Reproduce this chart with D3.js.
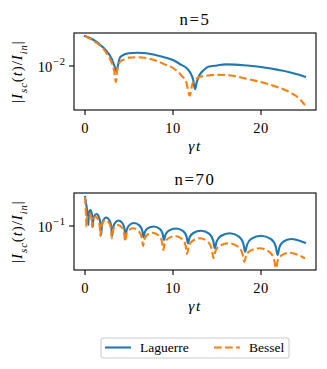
<!DOCTYPE html>
<html><head><meta charset="utf-8">
<script src="https://cdn.jsdelivr.net/npm/d3@7"></script>
<style>
body{margin:0;background:#fff}
svg{display:block}
</style>
</head><body>
<svg id="c" width="327" height="369" font-family="'Liberation Serif', 'Times New Roman', serif"></svg>
<script>
// ---------------- data ----------------
const panelTitles = ["n=5", "n=70"];
const seriesNames = ["Laguerre", "Bessel"];
const xTickValues = [0, 10, 20];
const yTickValues = [0.01, 0.1];
const yTickExponents = ["\u22122", "\u22121"];

// n = 5, Laguerre
const t5Laguerre = [0,1,2,2.5,3,3.3,3.45,3.6,3.75,4,4.5,5,6,7,8,9,10,11,11.5,12,12.3,12.5,12.7,13,13.5,14,15,16,17,18,19,20,21,22,23,24,25];
const v5Laguerre = [0.0293,0.0254,0.0198,0.0167,0.0132,0.0104,0.0093,0.00807,0.0104,0.0137,0.0152,0.0158,0.0161,0.0158,0.0148,0.0137,0.0124,0.0103,0.00941,0.0077,0.00606,0.00434,0.00564,0.0072,0.00866,0.0097,0.0102,0.0106,0.0105,0.0103,0.0100,0.00965,0.00921,0.00866,0.00815,0.00751,0.00681];
// n = 5, Bessel
const t5Bessel = [0,1,2,2.5,3,3.3,3.5,3.7,4,4.5,5,6,7,8,9,10,11,11.5,11.9,12.2,12.5,13,14,15,16,17,18,19,20,21,22,23,24,24.5,25];
const v5Bessel = [0.0293,0.0245,0.0191,0.0154,0.0115,0.00866,0.00564,0.00931,0.0117,0.0127,0.0135,0.0137,0.0133,0.0122,0.0107,0.00931,0.00699,0.00564,0.00347,0.00525,0.00606,0.00674,0.00711,0.00729,0.00724,0.00699,0.00651,0.00606,0.00564,0.00515,0.00463,0.00408,0.00341,0.00296,0.00247];

// n = 70, Laguerre
const t70Laguerre = [0,0.15,0.3,0.38,0.41,0.47,0.6,0.76,0.84,0.87,0.92,1.04,1.3,1.62,1.77,1.83,1.9,2.06,2.4,2.81,3.0,3.08,3.17,3.37,3.8,4.28,4.5,4.6,4.71,4.98,5.55,6.21,6.52,6.65,6.79,7.11,7.8,8.5,8.83,8.97,9.14,9.52,10.35,11.16,11.54,11.7,11.88,12.3,13.2,14.13,14.56,14.75,14.95,15.43,16.45,17.5,17.99,18.2,18.42,18.92,20.0,21.14,21.67,21.9,22.08,22.5,23.4,24.2,25];
const v70Laguerre = [0.2828,0.2123,0.1483,0.1037,0.1318,0.1611,0.1775,0.1588,0.1267,0.0965,0.1188,0.1416,0.1538,0.1342,0.1014,0.0724,0.0961,0.1209,0.1356,0.1205,0.0941,0.0699,0.0898,0.1102,0.1218,0.1094,0.0876,0.0667,0.0839,0.1014,0.1114,0.1014,0.0839,0.0667,0.0795,0.0918,0.0982,0.0901,0.0753,0.0606,0.0729,0.0848,0.0914,0.0830,0.0684,0.0538,0.0660,0.0778,0.0845,0.0753,0.0597,0.0450,0.0572,0.0699,0.0770,0.0684,0.0536,0.0398,0.0515,0.0637,0.0706,0.0623,0.0483,0.0354,0.0458,0.0566,0.0628,0.0599,0.0550];
// n = 70, Bessel
const t70Bessel = [0,0.07,0.12,0.17,0.2,0.28,0.45,0.66,0.76,0.8,0.85,0.96,1.2,1.53,1.68,1.75,1.82,1.99,2.35,2.76,2.96,3.04,3.13,3.32,3.75,4.24,4.46,4.56,4.67,4.92,5.45,6.14,6.46,6.6,6.73,7.04,7.7,8.42,8.76,8.9,9.06,9.44,10.25,11.06,11.44,11.6,11.77,12.18,13.05,13.98,14.41,14.6,14.8,15.28,16.3,17.38,17.88,18.1,18.31,18.8,19.85,20.96,21.48,21.7,21.88,22.3,23.2,24.1,25];
const v70Bessel = [0.2828,0.1976,0.1381,0.0975,0.1209,0.1447,0.1577,0.1447,0.1209,0.0975,0.1146,0.1309,0.1396,0.1231,0.0955,0.0699,0.0905,0.1118,0.1240,0.1102,0.0863,0.0643,0.0798,0.0951,0.1037,0.0931,0.0745,0.0570,0.0706,0.0845,0.0921,0.0821,0.0651,0.0488,0.0606,0.0722,0.0787,0.0704,0.0560,0.0423,0.0530,0.0639,0.0699,0.0623,0.0490,0.0367,0.0473,0.0582,0.0643,0.0566,0.0434,0.0314,0.0399,0.0488,0.0538,0.0478,0.0375,0.0278,0.0345,0.0413,0.0450,0.0395,0.0303,0.0220,0.0282,0.0347,0.0384,0.0360,0.0314];

// ---------------- drawing ----------------
const colors = ["#1f77b4", "#ff7f0e"];
const dashes = [null, "7.7,3.3"];
const svg = d3.select("#c");

const panels = [
  {title: panelTitles[0], top: 33, bottom: 110, yDomain: [0.002065, 0.03265], tick: yTickValues[0], exp: yTickExponents[0],
   series: [[t5Laguerre, v5Laguerre], [t5Bessel, v5Bessel]]},
  {title: panelTitles[1], top: 193, bottom: 270, yDomain: [0.02065, 0.3265], tick: yTickValues[1], exp: yTickExponents[1],
   series: [[t70Laguerre, v70Laguerre], [t70Bessel, v70Bessel]]}
];

const L = 74, R = 316;
const x = d3.scaleLinear().domain([-1.25, 26.25]).range([L, R]);

function mathText(sel, parts, size) {
  let sub = false;
  parts.forEach(p => {
    const ts = sel.append("tspan").text(p.t);
    if (p.i) ts.attr("font-style", "italic");
    if (p.sub && !sub) { ts.attr("dy", size * 0.3); sub = true; }
    else if (!p.sub && sub) { ts.attr("dy", -size * 0.3); sub = false; }
    ts.attr("font-size", p.sub ? size * 0.72 : size);
  });
}

panels.forEach((pn, k) => {
  const y = d3.scaleLog().domain(pn.yDomain).range([pn.bottom, pn.top]);
  const g = svg.append("g");
  const clipId = "clip" + k;
  svg.append("clipPath").attr("id", clipId).append("rect")
    .attr("x", L).attr("y", pn.top).attr("width", R - L).attr("height", pn.bottom - pn.top);

  pn.series.forEach((s, i) => {
    const pts = s[0].map((t, j) => [t, s[1][j]]);
    const line = d3.line().x(d => x(d[0])).y(d => y(d[1])).curve(d3.curveMonotoneX);
    g.append("path").attr("d", line(pts))
      .attr("clip-path", `url(#${clipId})`)
      .attr("fill", "none").attr("stroke", colors[i]).attr("stroke-width", 2.1)
      .attr("stroke-linejoin", "round")
      .attr("stroke-linecap", dashes[i] ? "butt" : "square")
      .attr("stroke-dasharray", dashes[i]);
  });

  // frame
  g.append("rect").attr("x", L).attr("y", pn.top).attr("width", R - L).attr("height", pn.bottom - pn.top)
    .attr("fill", "none").attr("stroke", "#000").attr("stroke-width", 1.1);

  // x ticks
  const xt = g.selectAll(".xt").data(xTickValues).enter().append("g");
  xt.append("line").attr("x1", d => x(d)).attr("x2", d => x(d))
    .attr("y1", pn.bottom).attr("y2", pn.bottom + 4.9).attr("stroke", "#000").attr("stroke-width", 1.1);
  xt.append("text").attr("x", d => x(d)).attr("y", pn.bottom + 23)
    .attr("text-anchor", "middle").attr("font-size", 14.5).attr("letter-spacing", 0.4).text(d => d);

  // y tick
  const yy = y(pn.tick);
  g.append("line").attr("x1", L - 4.9).attr("x2", L).attr("y1", yy).attr("y2", yy)
    .attr("stroke", "#000").attr("stroke-width", 1.1);
  const yl = g.append("text").attr("x", 65.5).attr("y", yy + 5.5).attr("text-anchor", "end").attr("font-size", 14.5);
  yl.append("tspan").text("10");
  yl.append("tspan").attr("dx", 1).attr("dy", -6.5).attr("font-size", 10.5).attr("letter-spacing", 0.5).text(pn.exp);

  // title
  g.append("text").attr("x", (L + R) / 2).attr("y", pn.top - 8).attr("text-anchor", "middle")
    .attr("font-size", 16.7).attr("letter-spacing", 1.6).text(pn.title);

  // x label
  const xl = g.append("text").attr("x", (L + R) / 2).attr("y", pn.bottom + 41).attr("text-anchor", "middle")
    .attr("font-size", 15.5).attr("letter-spacing", 1.5);
  mathText(xl, [{t: "\u03b3t", i: 1}], 15.5);

  // y label
  const ylab = g.append("text").attr("transform", `translate(22,${(pn.top + pn.bottom) / 2}) rotate(-90)`)
    .attr("text-anchor", "middle").attr("letter-spacing", 0.9);
  mathText(ylab, [{t: "|"}, {t: "I", i: 1}, {t: "sc", i: 1, sub: 1}, {t: "("}, {t: "t", i: 1}, {t: ")/"},
                  {t: "I", i: 1}, {t: "in", i: 1, sub: 1}, {t: "|"}], 15);
});

// legend
const lg = svg.append("g");
lg.append("rect").attr("x", 101).attr("y", 338).attr("width", 188).attr("height", 20).attr("rx", 2.5)
  .attr("fill", "#fff").attr("stroke", "#cccccc").attr("stroke-width", 1.1);
const legX = [105, 214];
seriesNames.forEach((name, i) => {
  lg.append("line").attr("x1", legX[i]).attr("x2", legX[i] + 26).attr("y1", 347.5).attr("y2", 347.5)
    .attr("stroke", colors[i]).attr("stroke-width", 2.1).attr("stroke-dasharray", dashes[i]);
  lg.append("text").attr("x", legX[i] + 35).attr("y", 351.5).attr("font-size", 13.5).text(name);
});
</script>
</body></html>
